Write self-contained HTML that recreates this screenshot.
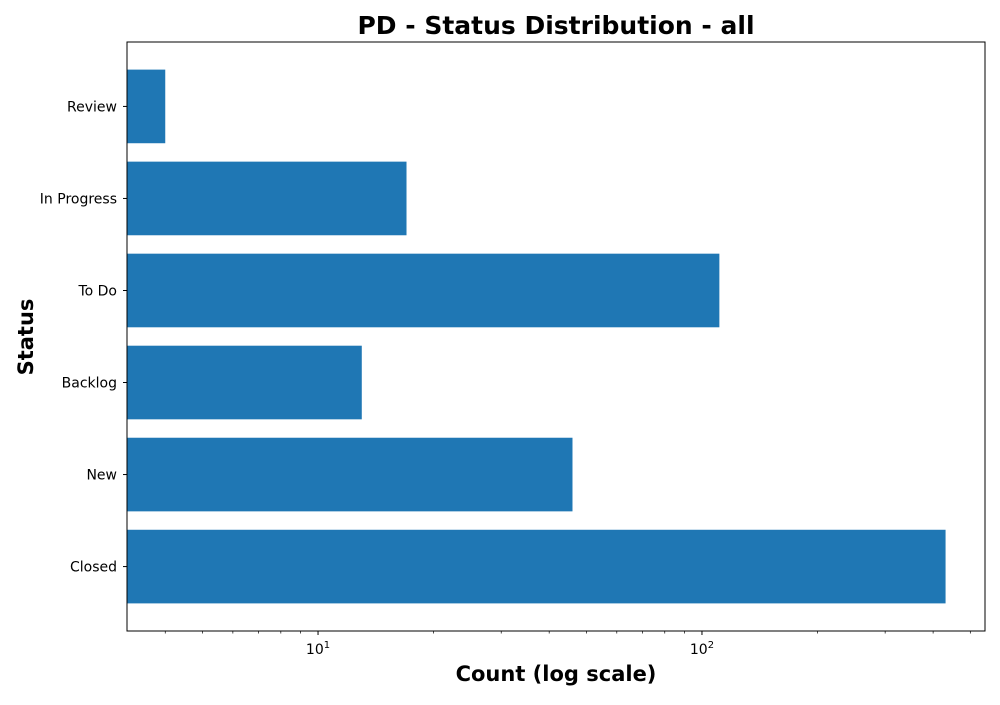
<!DOCTYPE html>
<html><head><meta charset="utf-8"><style>
body{margin:0;background:#fff;font-family:"Liberation Sans","DejaVu Sans",sans-serif;}
</style></head><body>
<svg id="chart" width="1000" height="700" xmlns="http://www.w3.org/2000/svg">
<text x="556" y="34" text-anchor="middle" font-size="25" font-weight="bold" font-family="DejaVu Sans, sans-serif">PD - Status Distribution - all</text>
<g id="bars"></g>
<g id="axes"></g>
<text x="556" y="681" text-anchor="middle" font-size="21" font-weight="bold" font-family="DejaVu Sans, sans-serif">Count (log scale)</text>
<text transform="translate(33,337) rotate(-90)" text-anchor="middle" font-size="21" font-weight="bold" font-family="DejaVu Sans, sans-serif">Status</text>
</svg>
<script>
const categories = ["Closed","New","Backlog","To Do","In Progress","Review"];
const counts = [431, 46, 13, 111, 17, 4];
const majorTicks = [10, 100];
const minorTicks = [4,5,6,7,8,9,20,30,40,50,60,70,80,90,200,300,400,500];
const L=127,R=985,T=42,B=631;
const dmin=3.18,dmax=546;
const ns="http://www.w3.org/2000/svg";
function x(v){return L+(Math.log10(v)-Math.log10(dmin))/(Math.log10(dmax)-Math.log10(dmin))*(R-L);}
const n=categories.length;
// y axis: matplotlib range [-0.5-0.25, n-0.5+0.25] approx
const ymin=-0.4-0.3, ymax=n-1+0.4+0.3;
const step=(B-T)/(ymax-ymin);
function yc(i){return B-(i-ymin)*step;}
const bars=document.getElementById('bars'),axes=document.getElementById('axes');
function mk(tag,attrs,parent){const e=document.createElementNS(ns,tag);for(const k in attrs)e.setAttribute(k,attrs[k]);parent.appendChild(e);return e;}
categories.forEach((c,i)=>{
 const r=mk('rect',{x:L,y:yc(i)-step*0.4,width:x(counts[i])-L,height:step*0.8,fill:'#1f77b4'},bars);
 
 
 mk('line',{x1:L-4,x2:L,y1:yc(i),y2:yc(i),stroke:'#000','stroke-width':1},axes);
 const t=mk('text',{x:L-10,y:yc(i)+5,'text-anchor':'end','font-size':14,'font-family':'DejaVu Sans, sans-serif'},axes);
 t.textContent=c;
 
 
});
const frame=mk('rect',{x:L,y:T,width:R-L,height:B-T,fill:'none',stroke:'#000','stroke-width':1},axes);


minorTicks.forEach(v=>{mk('line',{x1:x(v),x2:x(v),y1:B,y2:B+2.5,stroke:'#000','stroke-width':0.7},axes);});
majorTicks.forEach(v=>{
 const px=x(v);
 mk('line',{x1:px,x2:px,y1:B,y2:B+4,stroke:'#000','stroke-width':1},axes);
 const t=mk('text',{x:px,y:B+23,'text-anchor':'middle','font-size':14,'font-family':'DejaVu Sans, sans-serif'},axes);
 
 
 const e=Math.round(Math.log10(v));
 const a=document.createElementNS(ns,'tspan');a.textContent='10';t.appendChild(a);
 const b=document.createElementNS(ns,'tspan');b.setAttribute('dy','-6');b.setAttribute('font-size','10');b.textContent=e;t.appendChild(b);
});
</script>
</body></html>
